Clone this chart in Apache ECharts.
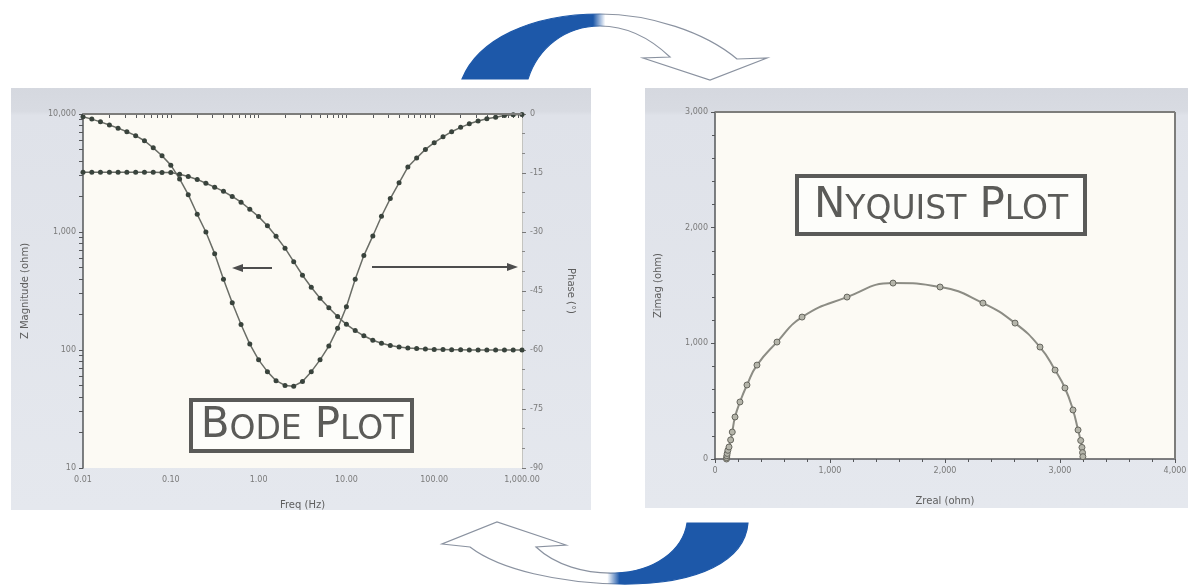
<!DOCTYPE html>
<html>
<head>
<meta charset="utf-8">
<title>Bode / Nyquist</title>
<script src="https://cdn.jsdelivr.net/npm/echarts@6/dist/echarts.min.js"></script>
<style>
  html, body { margin: 0; padding: 0; background: #ffffff; }
  #chart { width: 1194px; height: 586px; }
</style>
</head>
<body>
<div id="chart"></div>
<script>
// Bode data, 10 points per decade
const freq = [0.01, 0.0126, 0.0158, 0.02, 0.0251, 0.0316, 0.0398, 0.0501, 0.0631, 0.0794,
  0.1, 0.126, 0.158, 0.2, 0.251, 0.316, 0.398, 0.501, 0.631, 0.794,
  1, 1.26, 1.58, 2, 2.51, 3.16, 3.98, 5.01, 6.31, 7.94,
  10, 12.6, 15.8, 20, 25.1, 31.6, 39.8, 50.1, 63.1, 79.4,
  100, 126, 158, 200, 251, 316, 398, 501, 631, 794, 1000];

const zMag = [3215, 3215, 3214, 3214, 3213, 3212, 3210, 3208, 3204, 3198,
  3190, 3090, 2950, 2790, 2590, 2400, 2210, 2000, 1790, 1560,
  1350, 1130, 920, 730, 560, 430, 340, 275, 228, 192,
  165, 146, 132, 121, 114, 109, 106, 104, 103, 102,
  101, 101, 100.5, 100.5, 100, 100, 100, 100, 100, 100, 100];

const phase = [-0.7, -1.3, -2.0, -2.8, -3.6, -4.5, -5.5, -6.8, -8.6, -10.6,
  -13, -16.5, -20.5, -25.5, -30, -35.5, -42, -48, -53.5, -58.5,
  -62.5, -65.5, -67.8, -69, -69.2, -68, -65.5, -62.5, -59, -54.5,
  -49, -42, -36, -31, -26, -21.5, -17.5, -13.5, -11.2, -9,
  -7.3, -5.8, -4.5, -3.4, -2.5, -1.8, -1.2, -0.8, -0.4, -0.2, -0.1];

// Nyquist data
const zReal = [100, 101, 103, 106, 112, 122, 136, 150, 174, 217, 278, 365, 539, 757,
  1148, 1548, 1957, 2330, 2609, 2826, 2957, 3043, 3113, 3157, 3180, 3191, 3196, 3199];
const zImag = [0, 12, 28, 48, 75, 104, 165, 233, 363, 493, 640, 812, 1011, 1227,
  1400, 1521, 1487, 1348, 1175, 968, 769, 614, 424, 251, 160, 100, 55, 20];

// tick positions for the log axes (major + minor)
const freqTicks = [0.01, 0.02, 0.03, 0.04, 0.05, 0.06, 0.07, 0.08, 0.09,
  0.1, 0.2, 0.3, 0.4, 0.5, 0.6, 0.7, 0.8, 0.9,
  1, 2, 3, 4, 5, 6, 7, 8, 9,
  10, 20, 30, 40, 50, 60, 70, 80, 90,
  100, 200, 300, 400, 500, 600, 700, 800, 900, 1000];
const magTicks = [10, 20, 30, 40, 50, 60, 70, 80, 90,
  100, 200, 300, 400, 500, 600, 700, 800, 900,
  1000, 2000, 3000, 4000, 5000, 6000, 7000, 8000, 9000, 10000];

const fmtNum = (v, d) => {
  const parts = Number(v).toFixed(d).split('.');
  parts[0] = parts[0].replace(/\B(?=(\d{3})+(?!\d))/g, ',');
  return parts.join('.');
};

const chart = echarts.init(document.getElementById('chart'));

// the two curly arrows between the panels
echarts.graphic.registerShape('arrowTop', echarts.graphic.extendPath(
  'M 462 79 C 478 40, 530 14, 600 14 C 650 14, 705 32, 737 59 L 767 58 L 710 80 L 643 58 L 670 57 ' +
  'C 650 38, 628 26, 600 26 C 565 26, 538 48, 528 79 Z', {}));
echarts.graphic.registerShape('arrowBottom', echarts.graphic.extendPath(
  'M 748 523 C 745 560, 700 585, 620 584 C 560 583, 500 570, 470 547 L 442 544 L 497 522 L 566 545 L 536 547 ' +
  'C 555 565, 585 574, 615 573 C 655 572, 683 550, 687 523 Z', {}));

const blue = '#1d58a9';
const outline = '#8a92a0';
const axisGray = '#55575a';
const labelStyle = { color: '#7a7a7a', fontSize: 8, fontFamily: 'DejaVu Sans' };
const nameStyle = { color: '#5e5e5e', fontSize: 10, fontFamily: 'DejaVu Sans' };
const panelFill = {
  type: 'linear', x: 0, y: 0, x2: 0, y2: 1,
  colorStops: [
    { offset: 0, color: '#d5d8df' }, { offset: 0.055, color: '#d8dbe2' },
    { offset: 0.065, color: '#dfe2e9' }, { offset: 1, color: '#e5e8ee' }
  ]
};
const rich = {
  a: { fontSize: 42, lineHeight: 42, fontFamily: 'DejaVu Sans', fill: '#5b5b58', verticalAlign: 'bottom' },
  b: { fontSize: 33, lineHeight: 33, fontFamily: 'DejaVu Sans', fill: '#5b5b58', verticalAlign: 'bottom' },
  s: { width: 13, fontSize: 33, lineHeight: 33, verticalAlign: 'bottom' }
};

const option = {
  animation: false,
  backgroundColor: '#ffffff',
  grid: [
    { left: 83, top: 114, width: 439, height: 354, show: true, backgroundColor: '#fcfaf4', borderWidth: 0 },
    { left: 715, top: 112, width: 460, height: 347, show: true, backgroundColor: '#fcfaf4', borderWidth: 0 }
  ],
  xAxis: [
    {
      type: 'log', gridIndex: 0, logBase: 10, min: 0.01, max: 1000,
      name: 'Freq (Hz)', nameLocation: 'middle', nameGap: 32, nameTextStyle: nameStyle,
      axisLine: { lineStyle: { color: axisGray, width: 1.5 } },
      axisTick: { length: 4, customValues: freqTicks, lineStyle: { color: axisGray } },
      axisLabel: { ...labelStyle, margin: 8, formatter: v => fmtNum(v, 2) },
      splitLine: { show: false }
    },
    {
      type: 'value', gridIndex: 1, min: 0, max: 4000, interval: 1000,
      name: 'Zreal (ohm)', nameLocation: 'middle', nameGap: 37, nameTextStyle: nameStyle,
      axisLine: { lineStyle: { color: axisGray, width: 1.5 } },
      axisTick: { length: 4, lineStyle: { color: axisGray } },
      minorTick: { show: true, splitNumber: 5, length: 3, lineStyle: { color: axisGray } },
      axisLabel: { ...labelStyle, margin: 8, formatter: v => fmtNum(v, 0) },
      splitLine: { show: false }
    }
  ],
  yAxis: [
    {
      type: 'log', gridIndex: 0, logBase: 10, min: 10, max: 10000, position: 'left',
      name: 'Z Magnitude (ohm)', nameLocation: 'middle', nameGap: 53, nameTextStyle: nameStyle,
      axisLine: { show: true, lineStyle: { color: axisGray, width: 1.5 } },
      axisTick: { show: true, length: 4, customValues: magTicks, lineStyle: { color: axisGray } },
      axisLabel: { ...labelStyle, margin: 7, formatter: v => fmtNum(v, 0) },
      splitLine: { show: false }
    },
    {
      type: 'value', gridIndex: 0, min: -90, max: 0, interval: 15, position: 'right',
      name: 'Phase (°)', nameLocation: 'middle', nameGap: 44, nameRotate: -90, nameTextStyle: nameStyle,
      axisLine: { show: true, lineStyle: { color: '#c4c4c0', width: 1 } },
      axisTick: { show: true, length: 4, lineStyle: { color: '#777' } },
      minorTick: { show: true, splitNumber: 3, length: 3, lineStyle: { color: '#888' } },
      axisLabel: { ...labelStyle, margin: 8 },
      splitLine: { show: false }
    },
    {
      type: 'value', gridIndex: 1, min: 0, max: 3000, interval: 1000,
      name: 'Zimag (ohm)', nameLocation: 'middle', nameGap: 52, nameTextStyle: nameStyle,
      axisLine: { show: true, lineStyle: { color: axisGray, width: 1.5 } },
      axisTick: { show: true, length: 4, lineStyle: { color: axisGray } },
      minorTick: { show: true, splitNumber: 5, length: 3, lineStyle: { color: axisGray } },
      axisLabel: { ...labelStyle, margin: 7, formatter: v => fmtNum(v, 0) },
      splitLine: { show: false }
    }
  ],
  series: [
    {
      name: 'Z Magnitude', type: 'line', xAxisIndex: 0, yAxisIndex: 0,
      data: freq.map((f, i) => [f, zMag[i]]),
      symbol: 'circle', symbolSize: 5, showSymbol: true,
      lineStyle: { color: '#6a6d66', width: 1.5 }, itemStyle: { color: '#39433c' }
    },
    {
      name: 'Phase', type: 'line', xAxisIndex: 0, yAxisIndex: 1,
      data: freq.map((f, i) => [f, phase[i]]),
      symbol: 'circle', symbolSize: 5, showSymbol: true,
      lineStyle: { color: '#6a6d66', width: 1.5 }, itemStyle: { color: '#39433c' }
    },
    {
      name: 'Nyquist', type: 'line', xAxisIndex: 1, yAxisIndex: 2,
      data: zReal.map((x, i) => [x, zImag[i]]),
      smooth: true, symbol: 'circle', symbolSize: 6, showSymbol: true,
      lineStyle: { color: '#8c8c84', width: 2 },
      itemStyle: { color: '#b5b5aa', borderColor: '#66665e', borderWidth: 1 }
    }
  ],
  graphic: [
    // panels
    { type: 'rect', z: -10, shape: { x: 11, y: 88, width: 580, height: 422 }, style: { fill: panelFill } },
    { type: 'rect', z: -10, shape: { x: 645, y: 88, width: 543, height: 420 }, style: { fill: panelFill } },
    // plot frame lines
    { type: 'line', z: 5, shape: { x1: 83, y1: 114, x2: 522, y2: 114 }, style: { stroke: '#7d7d7b', lineWidth: 2 } },
    { type: 'line', z: 5, shape: { x1: 715, y1: 112, x2: 1175, y2: 112 }, style: { stroke: '#7d7d7b', lineWidth: 2 } },
    { type: 'line', z: 5, shape: { x1: 1175, y1: 112, x2: 1175, y2: 459 }, style: { stroke: '#7d7d7b', lineWidth: 2 } },
    // bode annotation arrows
    { type: 'line', z: 5, shape: { x1: 272, y1: 268, x2: 240, y2: 268 }, style: { stroke: '#4d4d4d', lineWidth: 2 } },
    { type: 'polygon', z: 5, shape: { points: [[232, 268], [243, 264], [243, 272]] }, style: { fill: '#4d4d4d' } },
    { type: 'line', z: 5, shape: { x1: 372, y1: 267, x2: 508, y2: 267 }, style: { stroke: '#4d4d4d', lineWidth: 2 } },
    { type: 'polygon', z: 5, shape: { points: [[518, 267], [507, 263], [507, 271]] }, style: { fill: '#4d4d4d' } },
    // title boxes
    { type: 'rect', z: 20, shape: { x: 191, y: 400, width: 221, height: 51 }, style: { fill: '#fdfdfa', stroke: '#5a5a58', lineWidth: 4 } },
    { type: 'text', z: 21, style: { x: 302, y: 426, text: '{a|B}{b|ODE}{s| }{a|P}{b|LOT}', rich: rich, align: 'center', verticalAlign: 'middle' } },
    { type: 'rect', z: 20, shape: { x: 797, y: 176, width: 288, height: 58 }, style: { fill: '#fdfdfa', stroke: '#5a5a58', lineWidth: 4 } },
    { type: 'text', z: 21, style: { x: 941, y: 206, text: '{a|N}{b|YQUIST}{s| }{a|P}{b|LOT}', rich: rich, align: 'center', verticalAlign: 'middle' } },
    // curly arrows
    {
      type: 'arrowTop', z: 30,
      style: {
        lineWidth: 1.2,
        fill: { type: 'linear', x: 0, y: 0, x2: 1, y2: 0, colorStops: [
          { offset: 0, color: blue }, { offset: 0.43, color: blue }, { offset: 0.47, color: '#ffffff' }, { offset: 1, color: '#ffffff' }] },
        stroke: { type: 'linear', x: 0, y: 0, x2: 1, y2: 0, colorStops: [
          { offset: 0, color: blue }, { offset: 0.43, color: blue }, { offset: 0.47, color: outline }, { offset: 1, color: outline }] }
      }
    },
    {
      type: 'arrowBottom', z: 30,
      style: {
        lineWidth: 1.2,
        fill: { type: 'linear', x: 0, y: 0, x2: 1, y2: 0, colorStops: [
          { offset: 0, color: '#ffffff' }, { offset: 0.54, color: '#ffffff' }, { offset: 0.58, color: blue }, { offset: 1, color: blue }] },
        stroke: { type: 'linear', x: 0, y: 0, x2: 1, y2: 0, colorStops: [
          { offset: 0, color: outline }, { offset: 0.54, color: outline }, { offset: 0.58, color: blue }, { offset: 1, color: blue }] }
      }
    }
  ]
};

chart.setOption(option);
window.addEventListener('resize', () => chart.resize());
</script>
</body>
</html>
